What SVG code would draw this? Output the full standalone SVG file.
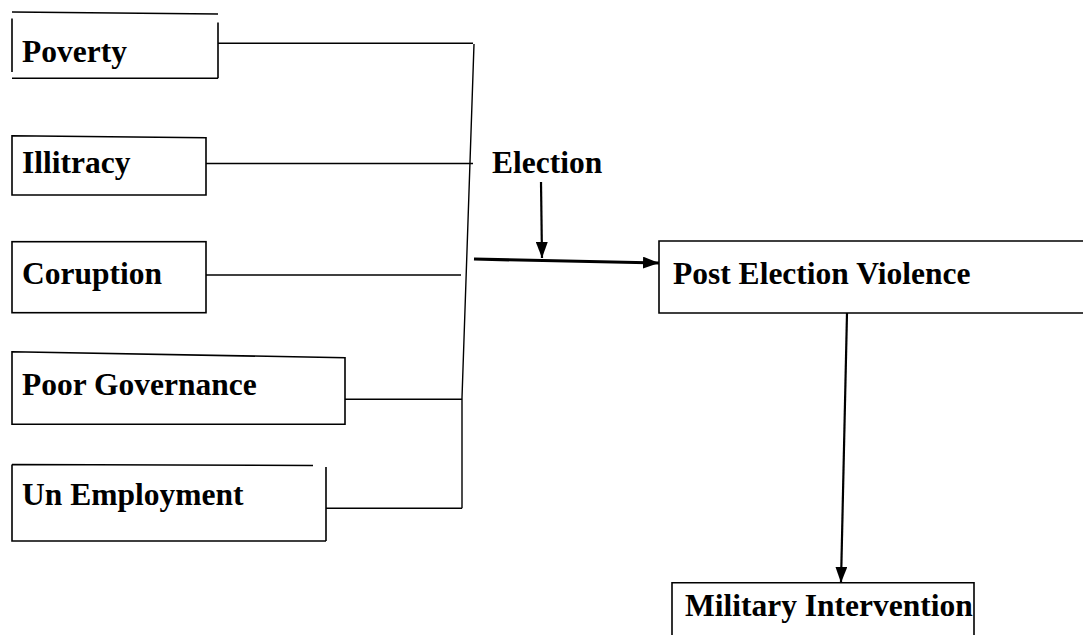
<svg xmlns="http://www.w3.org/2000/svg" width="1083" height="635" viewBox="0 0 1083 635">
  <style>
    .box { fill: none; stroke: #000; stroke-width: 1.6; }
    .lbl { font-family: "Liberation Serif", "Times New Roman", serif; font-weight: bold; font-size: 31.5px; fill: #000; }
    .con { fill: none; stroke: #000; stroke-width: 1.4; }
    .arr { fill: none; stroke: #000; stroke-width: 2.2; }
  </style>
  <defs>
    <marker id="ah" markerUnits="userSpaceOnUse" markerWidth="16" markerHeight="12" refX="16" refY="6" orient="auto">
      <path d="M0,0 L16,6 L0,12 z" fill="#000"/>
    </marker>
  </defs>
  <rect width="1083" height="635" fill="#fff"/>

  <g id="poverty">
    <path class="box" d="M12,12 L218,14 M12,18.5 V72 M218,22.5 V78.3 M12,78.3 H218"/>
    <text class="lbl" x="22" y="62">Poverty</text>
  </g>
  <g id="illitracy">
    <path class="box" d="M12,135.7 L206,137.7 V195 H12 Z"/>
    <text class="lbl" x="22" y="173.3">Illitracy</text>
  </g>
  <g id="coruption">
    <rect class="box" x="12" y="241.7" width="194" height="71"/>
    <text class="lbl" x="22" y="284.3">Coruption</text>
  </g>
  <g id="poor-governance">
    <path class="box" d="M12,351.7 L345,357.7 V424.3 H12 Z"/>
    <text class="lbl" x="22" y="395">Poor Governance</text>
  </g>
  <g id="un-employment">
    <path class="box" d="M12,464.5 L313,465.5 M12,464.5 V541 H326 M326,467 V541"/>
    <text class="lbl" x="22" y="505">Un Employment</text>
  </g>
  <g id="election">
    <text class="lbl" x="492" y="173.3">Election</text>
  </g>
  <g id="post-election-violence">
    <path class="box" d="M1090,241 H659 V313 H1090"/>
    <text class="lbl" x="673" y="284.3">Post Election Violence</text>
  </g>
  <g id="military-intervention">
    <path class="box" d="M672,640 V582.7 H974 V640"/>
    <text class="lbl" x="685" y="616">Military Intervention</text>
  </g>

  <g id="connectors">
    <path class="con" d="M218,43.3 H473"/>
    <path class="con" d="M474,44 L462,398 V508.3"/>
    <path class="con" d="M206,163.5 H473"/>
    <path class="con" d="M206,275 H461"/>
    <path class="con" d="M345,399.3 H462"/>
    <path class="con" d="M326,508.3 H462"/>
    <path d="M474,259 L659,263" fill="none" stroke="#000" stroke-width="3.2" marker-end="url(#ah)"/>
    <path class="arr" d="M541,182 L542,258" marker-end="url(#ah)"/>
    <path class="arr" d="M847,313 L841,582.7" marker-end="url(#ah)"/>
  </g>
</svg>
